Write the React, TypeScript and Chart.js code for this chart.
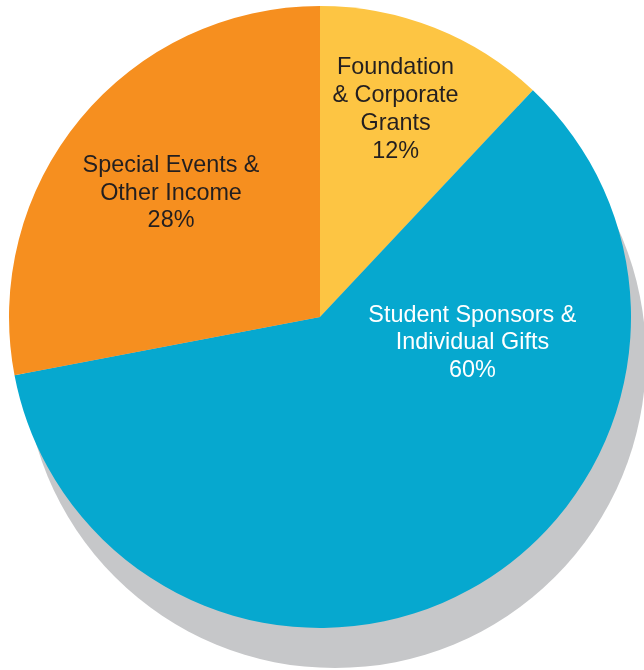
import React, { useEffect, useRef } from "react";
import { Chart, registerables } from "chart.js";

Chart.register(...registerables);

const categories = [
  ["Foundation", "& Corporate", "Grants"],
  ["Student Sponsors &", "Individual Gifts"],
  ["Special Events &", "Other Income"],
];
const values = [12, 60, 28];
const percentLabels = ["12%", "60%", "28%"];
const sliceColors = ["#FDC543", "#06A8CF", "#F68F1F"];
const labelColors = ["#231F20", "#FFFFFF", "#231F20"];
// label anchor (first baseline) relative to pie centre, in units of radius
const labelAnchors = [
  [0.243, -0.781],
  [0.49, 0.015],
  [-0.479, -0.467],
];

const shadowPlugin = {
  id: "pieShadow",
  beforeDatasetsDraw(chart: any) {
    const meta = chart.getDatasetMeta(0);
    const arc = meta.data[0];
    if (!arc) return;
    const { x, y, outerRadius } = arc.getProps(["x", "y", "outerRadius"], true);
    const ctx = chart.ctx;
    ctx.save();
    ctx.fillStyle = "#C6C7C9";
    ctx.beginPath();
    ctx.arc(x + outerRadius * 0.048, y + outerRadius * 0.129, outerRadius, 0, Math.PI * 2);
    ctx.fill();
    ctx.restore();
  },
};

const labelPlugin = {
  id: "pieLabels",
  afterDatasetsDraw(chart: any) {
    const meta = chart.getDatasetMeta(0);
    const arc = meta.data[0];
    if (!arc) return;
    const { x, y, outerRadius } = arc.getProps(["x", "y", "outerRadius"], true);
    const ctx = chart.ctx;
    ctx.save();
    ctx.font = "23.4px Arial, 'Liberation Sans', Helvetica, sans-serif";
    ctx.textAlign = "center";
    ctx.textBaseline = "alphabetic";
    const lh = 27.8;
    categories.forEach((lines, i) => {
      const ax = x + labelAnchors[i][0] * outerRadius;
      const ay = y + labelAnchors[i][1] * outerRadius;
      ctx.fillStyle = labelColors[i];
      [...lines, percentLabels[i]].forEach((t, j) => {
        ctx.fillText(t, ax, ay + j * lh);
      });
    });
    ctx.restore();
  },
};

export default function App() {
  const ref = useRef<HTMLCanvasElement | null>(null);
  useEffect(() => {
    if (!ref.current) return;
    const chart = new Chart(ref.current, {
      type: "pie",
      data: {
        labels: categories.map((c) => c.join(" ")),
        datasets: [
          {
            data: values,
            backgroundColor: sliceColors,
            borderWidth: 0,
            hoverOffset: 0,
          },
        ],
      },
      options: {
        animation: false,
        responsive: true,
        maintainAspectRatio: false,
        layout: { padding: { left: 9, right: 13, top: 6, bottom: 42 } },
        plugins: {
          legend: { display: false },
          tooltip: { enabled: false },
        },
        events: [],
      },
      plugins: [shadowPlugin, labelPlugin],
    });
    return () => chart.destroy();
  }, []);
  return (
    <div style={{ position: "absolute", left: 0, top: 0, width: 644, height: 670, background: "#fff" }}>
      <canvas ref={ref} />
    </div>
  );
}
